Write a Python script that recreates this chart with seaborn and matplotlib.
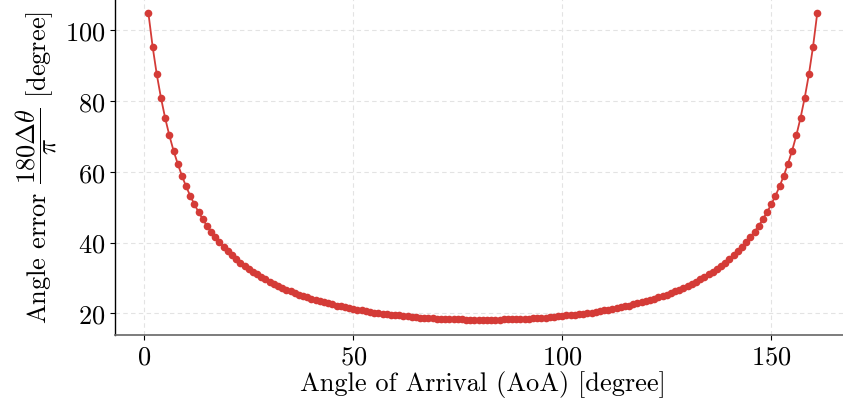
import numpy as np
import pandas as pd
import matplotlib
matplotlib.use("Agg")
import matplotlib.pyplot as plt
import seaborn as sns

# ============================================================
# DATA
# ============================================================
aoa_deg = list(range(1, 162))

angle_error = [
    104.8, 95.4, 87.5, 80.9, 75.2, 70.3, 66.0, 62.3, 58.9, 55.9,
    53.2, 50.8, 48.6, 46.6, 44.7, 43.1, 41.5, 40.1, 38.8, 37.5,
    36.4, 35.3, 34.3, 33.4, 32.5, 31.7, 31.0, 30.2, 29.6, 28.9,
    28.3, 27.7, 27.2, 26.7, 26.2, 25.7, 25.3, 24.9, 24.5, 24.1,
    23.8, 23.4, 23.1, 22.8, 22.5, 22.2, 22.0, 21.7, 21.5, 21.2,
    21.0, 20.8, 20.6, 20.4, 20.2, 20.1, 19.9, 19.8, 19.6, 19.5,
    19.4, 19.2, 19.1, 19.0, 18.9, 18.8, 18.8, 18.7, 18.6, 18.5,
    18.5, 18.4, 18.4, 18.3, 18.3, 18.3, 18.2, 18.2, 18.2, 18.2,
    18.2,
    18.2, 18.2, 18.2, 18.2, 18.3, 18.3, 18.3, 18.4, 18.4, 18.5,
    18.5, 18.6, 18.7, 18.8, 18.8, 18.9, 19.0, 19.1, 19.2, 19.4,
    19.5, 19.6, 19.8, 19.9, 20.1, 20.2, 20.4, 20.6, 20.8, 21.0,
    21.2, 21.5, 21.7, 22.0, 22.2, 22.5, 22.8, 23.1, 23.4, 23.8,
    24.1, 24.5, 24.9, 25.3, 25.7, 26.2, 26.7, 27.2, 27.7, 28.3,
    28.9, 29.6, 30.2, 31.0, 31.7, 32.5, 33.4, 34.3, 35.3, 36.4,
    37.5, 38.8, 40.1, 41.5, 43.1, 44.7, 46.6, 48.6, 50.8, 53.2,
    55.9, 58.9, 62.3, 66.0, 70.3, 75.2, 80.9, 87.5, 95.4, 104.8,
]

y_ticks = [20, 40, 60, 80, 100]
x_ticks = [0, 50, 100, 150]

df = pd.DataFrame({"aoa": aoa_deg, "err": angle_error})

# ============================================================
# STYLE
# ============================================================
sns.set_style("ticks")
plt.rcParams["font.family"] = "serif"
plt.rcParams["font.serif"] = ["cmr10"]
plt.rcParams["mathtext.fontset"] = "cm"
plt.rcParams["axes.formatter.use_mathtext"] = True
plt.rcParams["axes.unicode_minus"] = False
plt.rcParams["text.color"] = "black"
plt.rcParams["axes.labelcolor"] = "black"
plt.rcParams["xtick.color"] = "black"
plt.rcParams["ytick.color"] = "black"

LINE_COLOR = "#d43b37"
FS = 19

# ============================================================
# PLOT
# ============================================================
fig = plt.figure(figsize=(8.43, 4.06), dpi=100)
ax = fig.add_axes([0.1364, 0.1724, 0.8727, 0.8316])

sns.lineplot(data=df, x="aoa", y="err", ax=ax, color=LINE_COLOR,
             linewidth=1.3, marker="o", markersize=5.5, markeredgewidth=0)

ax.set_xlim(-7, 169)
ax.set_ylim(13.86, 109.3)
ax.set_xticks(x_ticks)
ax.set_yticks(y_ticks)
ax.grid(True, linestyle=(0, (4, 3)), color="#e3e3e3", linewidth=0.8)

ax.set_xlabel("Angle of Arrival (AoA) [degree]", fontsize=FS, labelpad=1)
ax.set_ylabel(r"Angle error $\dfrac{180\Delta\theta}{\pi}$ [degree]",
              fontsize=FS, labelpad=4)
ax.tick_params(axis="both", labelsize=FS)

for s in ["top", "right"]:
    ax.spines[s].set_visible(False)
ax.spines["left"].set_color("black")
ax.spines["bottom"].set_color("#666666")
ax.spines["left"].set_linewidth(1.0)
ax.spines["bottom"].set_linewidth(1.2)

fig.savefig("out.png", dpi=100)
plt.close(fig)
